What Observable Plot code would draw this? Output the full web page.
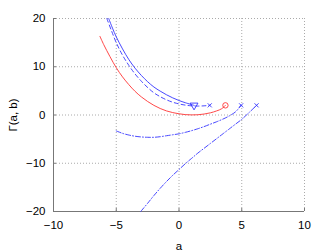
<!DOCTYPE html>
<html><head><meta charset="utf-8">
<script src="https://cdn.jsdelivr.net/npm/d3@7"></script>
<script src="https://cdn.jsdelivr.net/npm/@observablehq/plot@0.6"></script>
<style>
body{margin:0;background:#fff;}
#c{position:relative;width:336px;height:252px;}
</style>
</head><body><div id="c"></div>
<script>
const xTicks = [-10, -5, 0, 5, 10];
const yTicks = [-20, -10, 0, 10, 20];
const xLabel = "a";
const yLabel = "Γ(a, b)";

const redX = [-6.3,-6,-5.5,-5,-4.5,-4,-3.5,-3,-2.5,-2,-1.5,-1,-0.5,0,0.5,1,1.5,2,2.5,3,3.4,3.7];
const redY = [16.3,14.6,12.1,9.8,7.9,6.3,4.9,3.75,2.8,2.0,1.35,0.85,0.5,0.25,0.08,0.02,0.05,0.2,0.45,0.85,1.3,2.0];

const solidX = [-5.6,-5.3,-5,-4.5,-4,-3.5,-3,-2.5,-2,-1.5,-1,-0.5,0,0.5,1.2];
const solidY = [20,18,16.2,13.7,11.5,9.7,8.2,6.9,5.8,4.95,4.2,3.55,3.0,2.55,2.0];

const dashX = [-5.75,-5.4,-5,-4.5,-4,-3.5,-3,-2.5,-2,-1.5,-1,-0.5,0,0.5,1,1.5,2,2.45];
const dashY = [20,17.6,15.0,12.4,10.3,8.5,7.0,5.7,4.6,3.8,3.15,2.65,2.3,2.05,1.9,1.85,1.9,2.0];

const dotAX = [-5,-4.5,-4,-3.5,-3,-2.5,-2,-1.5,-1,-0.5,0,0.5,1,1.5,2,2.5,3,3.5,4,4.5,4.95];
const dotAY = [-3.3,-3.8,-4.15,-4.4,-4.55,-4.62,-4.62,-4.5,-4.3,-4.1,-3.9,-3.6,-3.25,-2.85,-2.4,-1.9,-1.4,-0.85,-0.2,0.65,2.0];

const dotBX = [-3.05,-2.5,-2,-1.5,-1,-0.5,0,0.5,1,1.5,2,2.5,3,3.5,4,4.5,5,5.5,6.18];
const dotBY = [-20,-18.3,-16.7,-15.2,-13.8,-12.5,-11.3,-10.1,-9.0,-7.9,-6.9,-5.9,-4.9,-3.9,-2.9,-1.9,-0.9,0.3,2.0];

const pts = (xs, ys) => xs.map((x, i) => ({x, y: ys[i]}));
const last = (xs, ys) => [{x: xs[xs.length-1], y: ys[ys.length-1]}];

const blue = "#3333ff";
const red = "#ff3333";

const chart = Plot.plot({
  width: 336, height: 252,
  marginLeft: 53, marginRight: 32, marginTop: 18, marginBottom: 41,
  style: {fontFamily: "Liberation Sans, Arial, sans-serif", fontSize: "10px", color: "#000", background: "#fff"},
  x: {domain: [-10, 10]},
  y: {domain: [-20, 20]},
  marks: [
    Plot.gridX(xTicks, {stroke: "#aaa", strokeOpacity: 1, strokeDasharray: "1,2"}),
    Plot.gridY(yTicks, {stroke: "#aaa", strokeOpacity: 1, strokeDasharray: "1,2"}),
    Plot.axisX(xTicks, {tickSize: -3, stroke: "#777", text: null, label: null}),
    Plot.axisY(yTicks, {tickSize: -3, stroke: "#777", text: null, label: null}),
    Plot.axisX(xTicks, {tickSize: 0, tickPadding: 9, fontSize: 11.5, label: null}),
    Plot.axisY(yTicks, {tickSize: 0, tickPadding: 8, fontSize: 11.5, label: null}),
    Plot.text([xLabel], {frameAnchor: "bottom", dy: 35, lineAnchor: "middle", fontSize: 11.5, fill: "#000"}),
    Plot.text([yLabel], {frameAnchor: "left", dx: -40, rotate: -90, textAnchor: "middle", lineAnchor: "middle", fontSize: 11.5, fill: "#000"}),
    Plot.ruleX([-10], {stroke: "#777"}),
    Plot.ruleY([-20], {stroke: "#777"}),
    Plot.line(pts(redX, redY), {x: "x", y: "y", stroke: red, strokeWidth: 0.9, curve: "catmull-rom"}),
    Plot.line(pts(solidX, solidY), {x: "x", y: "y", stroke: blue, strokeWidth: 0.9, curve: "catmull-rom"}),
    Plot.line(pts(dashX, dashY), {x: "x", y: "y", stroke: blue, strokeWidth: 0.9, strokeDasharray: "4,3", curve: "catmull-rom"}),
    Plot.line(pts(dotAX, dotAY), {x: "x", y: "y", stroke: blue, strokeWidth: 0.9, strokeDasharray: "5,2,1,2", curve: "catmull-rom"}),
    Plot.line(pts(dotBX, dotBY), {x: "x", y: "y", stroke: blue, strokeWidth: 0.9, strokeDasharray: "5,2,1,2", curve: "catmull-rom"}),
    Plot.dot(last(redX, redY), {x: "x", y: "y", r: 2.7, stroke: red, strokeWidth: 0.9, fill: "none"}),
    Plot.dot(last(solidX, solidY), {x: "x", y: "y", symbol: "triangle", rotate: 180, r: 2.9, stroke: blue, strokeWidth: 0.9, fill: "none"}),
    Plot.dot([...last(dashX, dashY), ...last(dotAX, dotAY), ...last(dotBX, dotBY)], {x: "x", y: "y", symbol: "times", r: 2, stroke: blue, strokeWidth: 0.9})
  ]
});
d3.select(chart).selectAll("text").filter(function() { return this.textContent === yLabel; })
  .attr("text-anchor", "middle")
  .each(function() { this.parentNode.setAttribute("text-anchor", "middle"); });
document.getElementById("c").appendChild(chart);
</script>
</body></html>
